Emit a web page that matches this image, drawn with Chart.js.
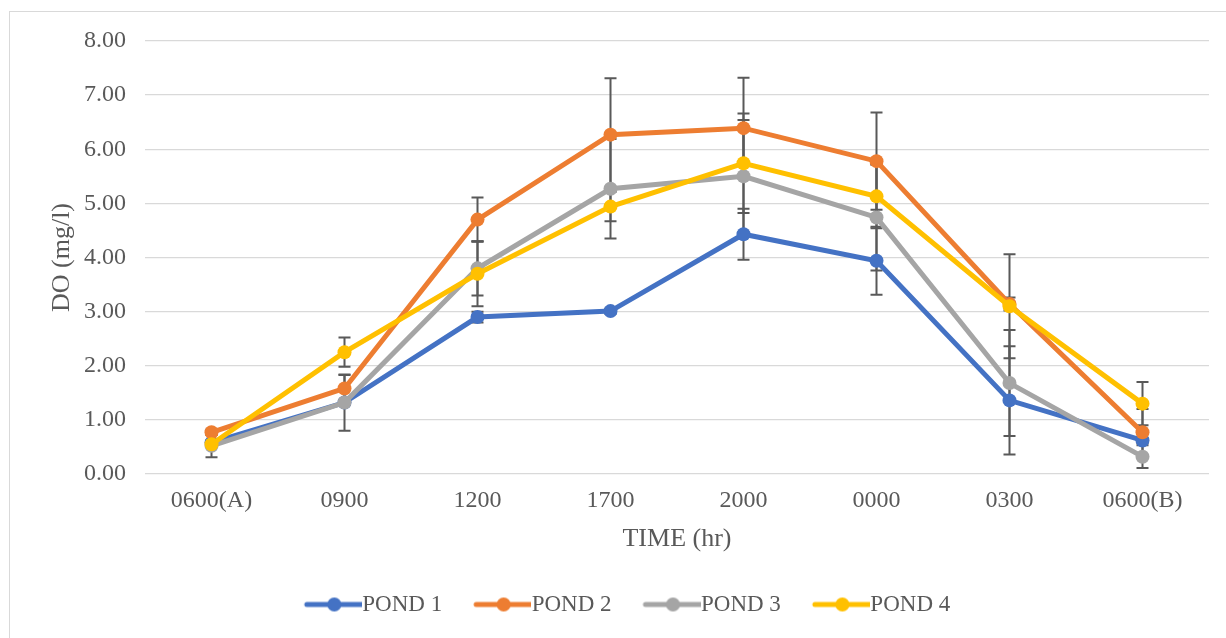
<!DOCTYPE html>
<html>
<head>
<meta charset="utf-8">
<script src="https://cdn.jsdelivr.net/npm/chart.js@4/dist/chart.umd.min.js"></script>
<style>
  html, body { margin: 0; padding: 0; background: #ffffff; overflow: hidden; }
  #wrap { position: relative; width: 1226px; height: 638px; }
  #frame { position: absolute; left: 9px; top: 11px; width: 1240px; height: 660px; border: 1px solid #d9d9d9; box-sizing: border-box; }
  #c { position: absolute; left: 0; top: 0; }
</style>
</head>
<body>
<div id="wrap">
  <div id="frame"></div>
  <canvas id="c" width="1226" height="638" style="width:1226px;height:638px"></canvas>
</div>
<script>
// ---- Data ----
const timeLabels = ['0600(A)', '0900', '1200', '1700', '2000', '0000', '0300', '0600(B)'];
const seriesNames = ['POND 1', 'POND 2', 'POND 3', 'POND 4'];
const pond1 = [0.58, 1.32, 2.90, 3.01, 4.43, 3.94, 1.36, 0.62];
const pond2 = [0.77, 1.58, 4.70, 6.27, 6.39, 5.78, 3.14, 0.77];
const pond3 = [0.52, 1.32, 3.80, 5.27, 5.50, 4.74, 1.68, 0.32];
const pond4 = [0.55, 2.25, 3.70, 4.94, 5.74, 5.13, 3.10, 1.30];
const err1 = [0.05, 0.05, 0.10, 0.05, 0.47, 0.63, 1.00, 0.05];
const err2 = [0.05, 0.25, 0.41, 1.04, 0.93, 0.90, 0.12, 0.43];
const err3 = [0.21, 0.52, 0.50, 0.92, 1.04, 0.98, 0.98, 0.21];
const err4 = [0.05, 0.27, 0.60, 0.27, 0.92, 0.59, 0.96, 0.40];
const yTickValues = [0, 1, 2, 3, 4, 5, 6, 7, 8];

const colors = ['#4472C4', '#ED7D31', '#A5A5A5', '#FFC000'];
const seriesValues = [pond1, pond2, pond3, pond4];
const seriesErrors = [err1, err2, err3, err4];
const textColor = '#595959';
const fontFamily = '"Liberation Serif", "Times New Roman", serif';

function makeLegendSymbol(color) {
  const cv = document.createElement('canvas');
  cv.width = 72; cv.height = 18;
  const g = cv.getContext('2d');
  g.strokeStyle = color; g.lineWidth = 5; g.lineCap = 'round';
  g.beginPath(); g.moveTo(17, 9); g.lineTo(72, 9); g.stroke();
  g.fillStyle = color;
  g.beginPath(); g.arc(44.5, 9, 7, 0, Math.PI * 2); g.fill();
  return cv;
}

const datasets = seriesNames.map((name, i) => ({
  label: name,
  data: seriesValues[i],
  errors: seriesErrors[i],
  borderColor: colors[i],
  backgroundColor: colors[i],
  pointBackgroundColor: colors[i],
  pointBorderColor: colors[i],
  borderWidth: 5,
  pointRadius: 7,
  pointBorderWidth: 0,
  tension: 0,
  order: seriesNames.length - i
}));

const errorBarPlugin = {
  id: 'errorBars',
  beforeDatasetsDraw(chart) {
    const ctx = chart.ctx;
    const xs = chart.scales.x, ys = chart.scales.y;
    ctx.save();
    ctx.strokeStyle = '#595959';
    ctx.lineWidth = 2;
    chart.data.datasets.forEach((ds) => {
      ds.data.forEach((v, j) => {
        const e = ds.errors[j];
        const x = xs.getPixelForValue(j);
        const yt = ys.getPixelForValue(v + e);
        const yb = ys.getPixelForValue(v - e);
        ctx.beginPath();
        ctx.moveTo(x, yt); ctx.lineTo(x, yb);
        ctx.moveTo(x - 6, yt); ctx.lineTo(x + 6, yt);
        ctx.moveTo(x - 6, yb); ctx.lineTo(x + 6, yb);
        ctx.stroke();
      });
    });
    ctx.restore();
  }
};

new Chart(document.getElementById('c'), {
  type: 'line',
  data: { labels: timeLabels, datasets },
  plugins: [errorBarPlugin],
  options: {
    responsive: false,
    animation: false,
    devicePixelRatio: 1,
    layout: { padding: { left: 42, right: 17, top: 41, bottom: 12 } },
    plugins: {
      tooltip: { enabled: false },
      legend: {
        position: 'bottom',
        labels: {
          usePointStyle: true,
          pointStyleWidth: 50,
          padding: 28,
          color: textColor,
          font: { family: fontFamily, size: 23 },
          generateLabels(chart) {
            return chart.data.datasets.map((ds, i) => ({
              text: ds.label,
              pointStyle: makeLegendSymbol(colors[i]),
              fillStyle: colors[i],
              strokeStyle: colors[i],
              lineWidth: 0,
              fontColor: textColor,
              hidden: false,
              datasetIndex: i
            }));
          }
        }
      }
    },
    scales: {
      x: {
        type: 'category',
        offset: true,
        grid: { display: false, drawTicks: false },
        border: { display: false },
        ticks: { color: textColor, font: { family: fontFamily, size: 24 }, padding: 12.6, maxRotation: 0, autoSkip: false },
        title: { display: true, text: 'TIME (hr)', color: textColor, font: { family: fontFamily, size: 26 }, padding: { top: 0, bottom: 10.4 } },
        afterFit(scale) { scale.height = 91; }
      },
      y: {
        min: 0, max: 8,
        afterBuildTicks(scale) { scale.ticks = yTickValues.map(v => ({ value: v })); },
        grid: { color: '#d9d9d9', lineWidth: 1.3, drawTicks: false },
        border: { display: false },
        ticks: { color: textColor, font: { family: fontFamily, size: 24 }, padding: 19, callback: v => Number(v).toFixed(2) },
        title: { display: true, text: 'DO (mg/l)', color: textColor, font: { family: fontFamily, size: 26 }, padding: { top: 4.4, bottom: 0 } },
        afterFit(scale) { scale.width = 103; }
      }
    }
  }
});
</script>
</body>
</html>
